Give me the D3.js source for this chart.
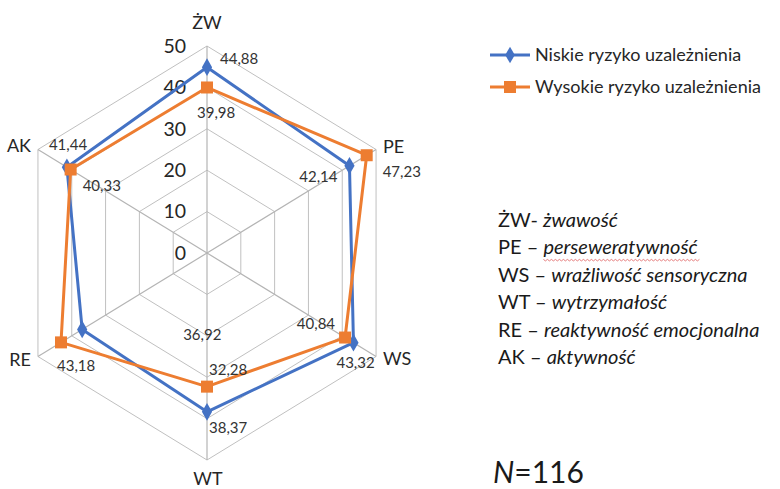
<!DOCTYPE html>
<html><head><meta charset="utf-8">
<script src="https://cdn.jsdelivr.net/npm/d3@7"></script>
<style>body{margin:0;background:#fff;}svg{display:block;font-family:Lato,"Open Sans",sans-serif;}</style>
</head><body>
<svg id="c" width="780" height="489"></svg>
<script>
const axesLabels = ["ŻW","PE","WS","WT","RE","AK"];
const seriesNames = ["Niskie ryzyko uzależnienia","Wysokie ryzyko uzależnienia"];
const niskie = [44.88, 42.14, 43.32, 38.37, 36.92, 41.44];
const wysokie = [39.98, 47.23, 40.84, 32.28, 43.18, 40.33];
const ticks = [0,10,20,30,40,50];
const glossAbbr = ["ŻW-","PE –","WS –","WT –","RE –","AK –"];
const glossText = ["żwawość","perseweratywność","wrażliwość sensoryczna","wytrzymałość","reaktywność emocjonalna","aktywność"];
const nText = "116";

// layout (not data)
const cx = 207, cy = 253, R = 207, kx = 0.943;
const colors = ["#4472C4","#ED7D31"];
const lblOff = [
  [[13,-8,"start"],[-12,11,"end"],[-17,20,"start"],[2,16,"start"],[101,5,"start"],[-18,-22,"start"]],
  [[-10,25,"start"],[16,17,"start"],[-10,-14,"end"],[2,-17,"start"],[-4,23,"start"],[12,16,"start"]]
];

const svg = d3.select("#c");
const r = d3.scaleLinear().domain([0,50]).range([0,R]);
const ang = d3.scaleLinear().domain([0,axesLabels.length]).range([0,2*Math.PI]);
const pt = (i,v) => [cx + r(v)*Math.sin(ang(i))*kx, cy - r(v)*Math.cos(ang(i))];

// grid rings
const g = svg.append("g");
ticks.filter(t=>t>0).forEach(t=>{
  g.append("path")
   .attr("d", d3.line()(axesLabels.map((_,i)=>pt(i,t))) + "Z")
   .attr("fill","none").attr("stroke","#c0c0c0").attr("stroke-width",1);
});
axesLabels.forEach((_,i)=>{
  const [x,y]=pt(i,50);
  g.append("line").attr("x1",cx).attr("y1",cy).attr("x2",x).attr("y2",y)
   .attr("stroke","#b4b4b4").attr("stroke-width",1.2);
});
// tick labels
ticks.forEach(t=>{
  svg.append("text").attr("x",186).attr("y",cy-r(t)).attr("dy","0.35em")
   .attr("text-anchor","end").attr("font-size",19.5).attr("fill","#262626").text(t);
});
// axis labels
const axPos = [[207,29,"middle"],[383,153,"start"],[383,365,"start"],[208,485,"middle"],[31,366,"end"],[31,152,"end"]];
axesLabels.forEach((l,i)=>{
  svg.append("text").attr("x",axPos[i][0]).attr("y",axPos[i][1]).attr("text-anchor",axPos[i][2])
   .attr("font-size",18).attr("fill","#262626").text(l);
});

// series
const data = [niskie, wysokie];
data.forEach((vals,s)=>{
  const pts = vals.map((v,i)=>pt(i,v));
  svg.append("path").attr("d", d3.line()(pts)+"Z").attr("fill","none")
    .attr("stroke",colors[s]).attr("stroke-width",3).attr("stroke-linejoin","round");
});
data.forEach((vals,s)=>{
  vals.forEach((v,i)=>{
    const [x,y]=pt(i,v);
    if(s===0){
      svg.append("path").attr("d",d3.symbol(d3.symbolDiamond, 90)())
        .attr("transform",`translate(${x},${y})`).attr("fill",colors[s]);
    } else {
      svg.append("rect").attr("x",x-6).attr("y",y-6).attr("width",12).attr("height",12).attr("fill",colors[s]);
    }
  });
});
// data labels
data.forEach((vals,s)=>{
  vals.forEach((v,i)=>{
    const [x,y]=pt(i,v);
    const o=lblOff[s][i];
    svg.append("text").attr("x",x+o[0]).attr("y",y+o[1]).attr("dy","0.35em")
      .attr("text-anchor",o[2]).attr("font-size",15).attr("fill","#333")
      .text(d3.format(".2f")(v).replace(".",","));
  });
});

// legend
seriesNames.forEach((n,s)=>{
  const y = s===0 ? 55 : 87;
  svg.append("line").attr("x1",490).attr("x2",530).attr("y1",y).attr("y2",y)
    .attr("stroke",colors[s]).attr("stroke-width",3);
  if(s===0){
    svg.append("path").attr("d",d3.symbol(d3.symbolDiamond,80)()).attr("transform",`translate(510,${y})`).attr("fill",colors[s]);
  } else {
    svg.append("rect").attr("x",504).attr("y",y-6).attr("width",12).attr("height",12).attr("fill",colors[s]);
  }
  svg.append("text").attr("x",535).attr("y",y).attr("dy","0.35em").attr("font-size",18)
    .attr("fill","#262626").text(n);
});

// glossary
glossAbbr.forEach((a,i)=>{
  const t = svg.append("text").attr("x",498).attr("y",227+i*27.4).attr("font-size",20).attr("fill","#1a1a1a");
  t.append("tspan").text(a+" ");
  t.append("tspan").attr("font-style","italic").text(glossText[i]);
});
// red squiggle under "perseweratywność"
{
  const node = svg.selectAll("text").filter(function(){return this.textContent.startsWith("PE –");}).node();
  const sp = node.childNodes[1];
  const x0 = sp.getStartPositionOfChar(0).x, x1 = sp.getEndPositionOfChar(sp.getNumberOfChars()-1).x;
  const yb = 227+27.4+5;
  let d = `M${x0},${yb}`;
  for(let x=x0, k=0; x<x1; x+=2, k++){ d += ` L${x+2},${yb + (k%2? 0 : 1.5)}`; }
  svg.append("path").attr("d",d).attr("fill","none").attr("stroke","#e06060").attr("stroke-width",0.8);
}

// N
const nt = svg.append("text").attr("x",493).attr("y",483).attr("font-size",30).attr("fill","#1a1a1a");
nt.append("tspan").attr("font-style","italic").text("N");
nt.append("tspan").text("="+nText);
</script>
</body></html>
